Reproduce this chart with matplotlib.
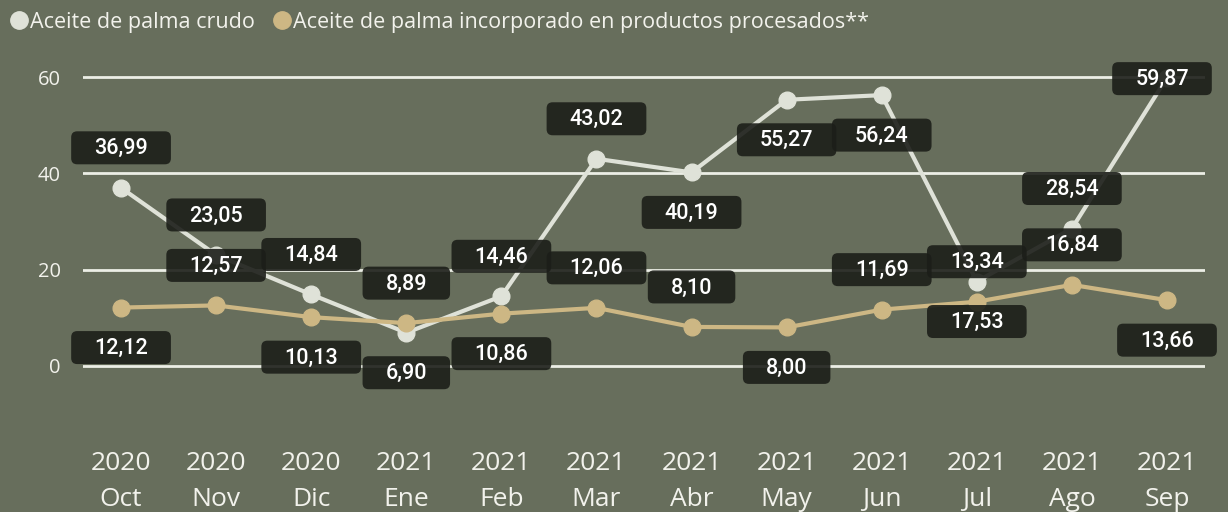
import matplotlib.pyplot as plt
import matplotlib.transforms as mtransforms
from matplotlib.lines import Line2D
from matplotlib.patches import FancyBboxPatch

anios = ["2020", "2020", "2020", "2021", "2021", "2021", "2021", "2021", "2021", "2021", "2021", "2021"]
meses = ["Oct", "Nov", "Dic", "Ene", "Feb", "Mar", "Abr", "May", "Jun", "Jul", "Ago", "Sep"]
crudo = [36.99, 23.05, 14.84, 6.90, 14.46, 43.02, 40.19, 55.27, 56.24, 17.53, 28.54, 59.87]
procesado = [12.12, 12.57, 10.13, 8.89, 10.86, 12.06, 8.10, 8.00, 11.69, 13.34, 16.84, 13.66]

# where each value label sits: 1 above the point, -1 below, 0 on it
lado_crudo = [1, 1, 1, -1, 1, 1, -1, -1, -1, -1, 1, 0]
lado_proc = [-1, 1, -1, 1, -1, 1, 1, -1, 1, 1, 1, -1]

fondo = "#676e5c"
c_crudo = "#dfe2d8"
c_proc = "#cdb784"
c_texto = "#f2f2ec"

fig = plt.figure(figsize=(12.28, 5.12), dpi=100, facecolor=fondo)
ax = fig.add_axes([0.0676, 0.1348, 0.9137, 0.7336])
ax.set_facecolor(fondo)

x = list(range(len(meses)))
ax.plot(x, crudo, color=c_crudo, lw=3, marker="o", ms=12, zorder=3)
ax.plot(x, procesado, color=c_proc, lw=3, marker="o", ms=12, zorder=3)

ax.set_xlim(-0.4, len(meses) - 0.6)
ax.set_ylim(-16, 62)
ax.set_yticks([0, 20, 40, 60])
ax.set_xticks(x)
ax.set_xticklabels([a + "\n" + m for a, m in zip(anios, meses)], linespacing=1.55)
ax.yaxis.grid(True, color="#eceee6", lw=2, zorder=0)
ax.set_axisbelow(True)
for s in ax.spines.values():
    s.set_visible(False)
ax.tick_params(axis="y", length=0, pad=16, labelsize=14.5, labelcolor=c_texto)
ax.tick_params(axis="x", length=0, pad=6, labelsize=19, labelcolor=c_texto)
for t in ax.get_xticklabels() + ax.get_yticklabels():
    t.set_fontfamily("Open Sans")

renderer = fig.canvas.get_renderer()


def etiqueta(i, v, lado, dx=0, dy=None):
    if dy is None:
        dy = 40 * lado
    txt = ax.annotate(f"{v:.2f}".replace(".", ","), xy=(i, v), xytext=(dx, dy - 1),
                      textcoords="offset pixels", ha="center", va="center",
                      color="white", fontsize=15.5, family="Roboto", weight="medium",
                      zorder=6, annotation_clip=False)
    w = txt.get_window_extent(renderer).width + 46
    tr = mtransforms.Affine2D().translate(dx, dy) + mtransforms.ScaledTranslation(i, v, ax.transData)
    caja = FancyBboxPatch((-w / 2, -16.5), w, 33, boxstyle="round,pad=0,rounding_size=6",
                          facecolor="#1c1e19", edgecolor="none", alpha=0.9,
                          transform=tr, zorder=5, clip_on=False)
    ax.add_artist(caja)


for i in x:
    if lado_crudo[i] == 0:
        etiqueta(i, crudo[i], 0, dx=-5, dy=-1)
    else:
        etiqueta(i, crudo[i], lado_crudo[i])
    etiqueta(i, procesado[i], lado_proc[i])

handles = [
    Line2D([], [], ls="none", marker="o", ms=12.5, color=c_crudo),
    Line2D([], [], ls="none", marker="o", ms=12.5, color=c_proc),
]
leg = fig.legend(handles, ["Aceite de palma crudo",
                           "Aceite de palma incorporado en productos procesados**"],
                 loc="upper left", bbox_to_anchor=(0.0, 1.0), ncol=2, frameon=False,
                 handlelength=0.7, handletextpad=0.15, columnspacing=0.9,
                 prop={"family": "Open Sans", "size": 15.5}, labelcolor=c_texto,
                 borderaxespad=0.15)

fig.savefig("out.png", dpi=100, facecolor=fondo)
